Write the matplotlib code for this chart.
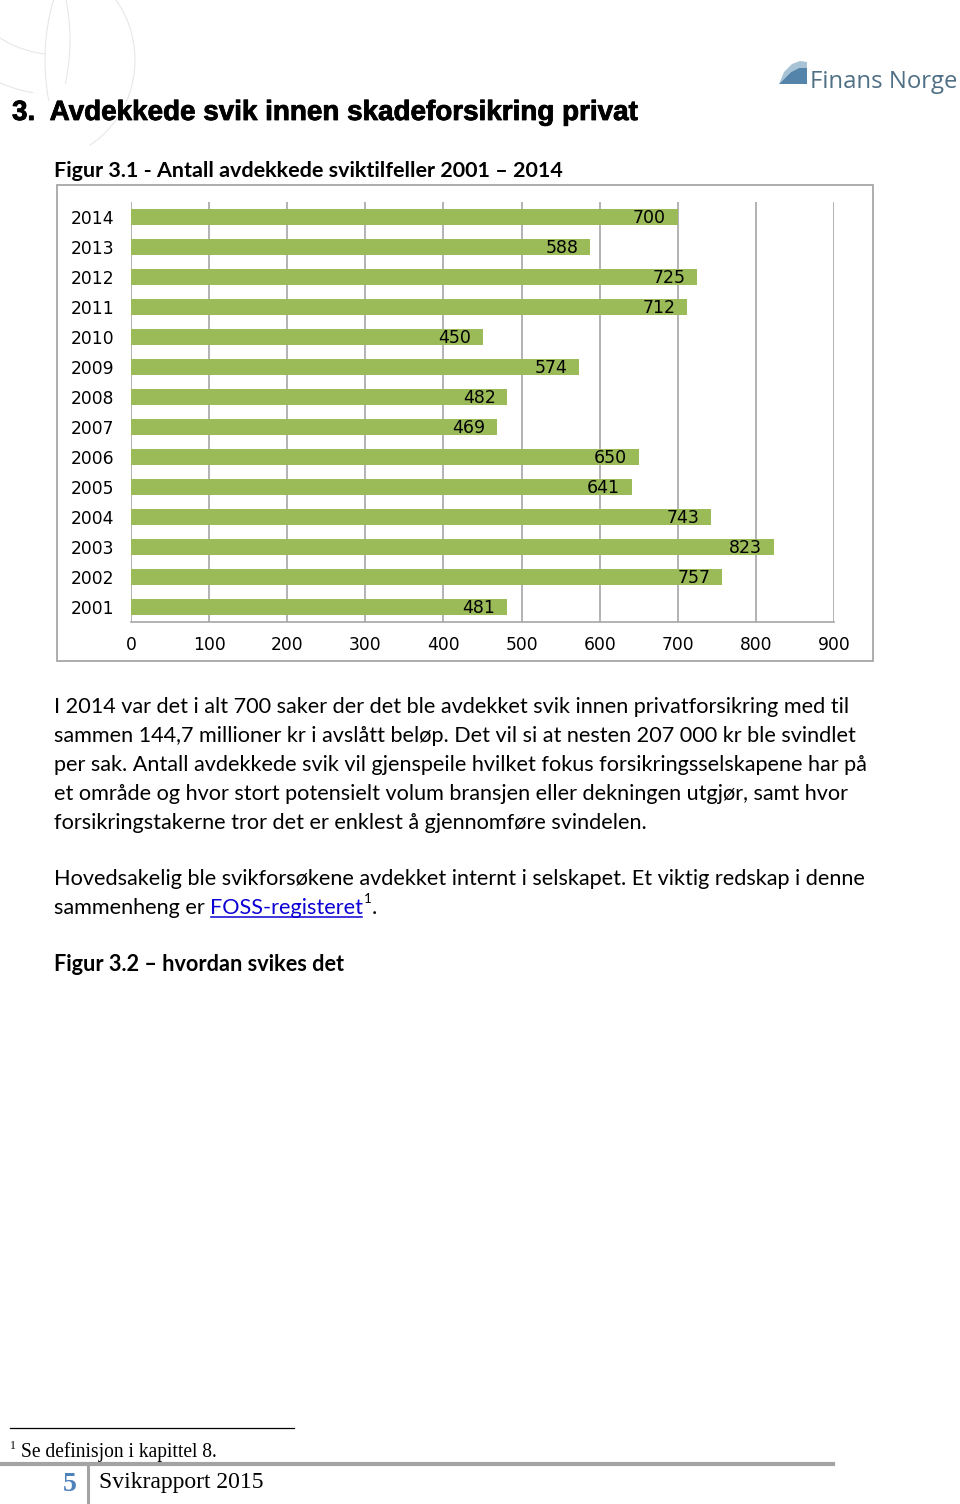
import matplotlib
matplotlib.use('Agg')
import matplotlib.pyplot as plt
import matplotlib.patheffects as pe
from matplotlib.patches import Rectangle, Arc, Polygon

# data
years = ['2001', '2002', '2003', '2004', '2005', '2006', '2007',
         '2008', '2009', '2010', '2011', '2012', '2013', '2014']
counts = [481, 757, 823, 743, 641, 650, 469, 482, 574, 450, 712, 725, 588, 700]
x_ticks = [0, 100, 200, 300, 400, 500, 600, 700, 800, 900]

heading = '3.  Avdekkede svik innen skadeforsikring privat'
fig1_title = 'Figur 3.1 - Antall avdekkede sviktilfeller 2001 \u2013 2014'
fig2_title = 'Figur 3.2 \u2013 hvordan svikes det'
para1 = ['I 2014 var det i alt 700 saker der det ble avdekket svik innen privatforsikring med til',
         'sammen 144,7 millioner kr i avsl\u00e5tt bel\u00f8p. Det vil si at nesten 207 000 kr ble svindlet',
         'per sak. Antall avdekkede svik vil gjenspeile hvilket fokus forsikringsselskapene har p\u00e5',
         'et omr\u00e5de og hvor stort potensielt volum bransjen eller dekningen utgj\u00f8r, samt hvor',
         'forsikringstakerne tror det er enklest \u00e5 gjennomf\u00f8re svindelen.']
para2 = 'Hovedsakelig ble svikfors\u00f8kene avdekket internt i selskapet. Et viktig redskap i denne'
para2_start = 'sammenheng er '
link_text = 'FOSS-registeret'
footnote = 'Se definisjon i kapittel 8.'
footer = 'Svikrapport 2015'

W, H = 960, 1504
BAR = '#9bbb59'
GRID = '#a6a6a6'

fig = plt.figure(figsize=(W / 100, H / 100), dpi=100)
page = fig.add_axes([0, 0, 1, 1])
page.set_xlim(0, W)
page.set_ylim(H, 0)
page.axis('off')
renderer = fig.canvas.get_renderer()


def put(x, y, s, width=None, **kw):
    # place text at a pixel baseline, optionally scale it to a pixel width
    t = page.text(x, y, s, va='baseline', ha='left', **kw)
    if width:
        w = t.get_window_extent(renderer).width
        t.set_fontsize(t.get_fontsize() * width / w)
    return t


def width_of(t):
    return t.get_window_extent(renderer).width


# faint globe lines in the top left corner
for cx, cy, w, h, a1, a2 in [(40, 60, 190, 200, -80, 60), (120, 60, 150, 260, 150, 230),
                             (-10, 40, 160, 260, -40, 30), (60, -30, 200, 170, 100, 170),
                             (60, 20, 220, 150, 110, 160)]:
    page.add_patch(Arc((cx, cy), w, h, theta1=a1, theta2=a2, color='#e4e4e4', lw=0.7))

# logo
page.add_patch(Polygon([(779, 84), (784, 72), (792, 64), (800, 61), (807, 62),
                        (807, 68), (799, 68), (791, 72), (785, 78)], closed=True,
                       fc='#a9c3d6', ec='none'))
page.add_patch(Polygon([(785, 78), (791, 72), (799, 68), (807, 68), (807, 84),
                        (779, 84)], closed=True, fc='#5584aa', ec='none'))
put(810, 88, 'Finans Norge', width=147, family='Open Sans', color='#4f6f85', fontsize=18)

h = put(12, 120, heading, width=625, family='Liberation Sans', weight='bold', fontsize=20)
h.set_path_effects([pe.withStroke(linewidth=0.6, foreground='black')])
put(54, 177, fig1_title, width=509, family='Lato', weight='bold', fontsize=15)

# chart frame and bar chart
page.add_patch(Rectangle((57, 185), 816, 476, fill=False, ec='#a0a0a0', lw=1.2))

ax = fig.add_axes([131 / W, (H - 622) / H, 703 / W, 420 / H])
ypos = list(range(len(years)))
ax.barh(ypos, counts, height=0.53, color=BAR, zorder=2)
ax.set_xlim(0, 900)
ax.set_ylim(-0.5, 13.5)
ax.set_xticks(x_ticks)
ax.set_yticks(ypos)
ax.set_yticklabels(years)
ax.grid(axis='x', color=GRID, lw=1.2)
ax.set_axisbelow(True)
for s in ['top', 'right', 'left']:
    ax.spines[s].set_visible(False)
ax.spines['bottom'].set_color(GRID)
ax.spines['bottom'].set_linewidth(1.2)
ax.tick_params(axis='y', length=0, pad=12, labelsize=12.3)
ax.tick_params(axis='x', length=0, pad=10, labelsize=12.3)
for i, v in zip(ypos, counts):
    ax.annotate(str(v), (v, i), xytext=(-8.5, -0.5), textcoords='offset points',
                ha='right', va='center', fontsize=12.5, color='black')

# body text
body = dict(family='Lato', color='black')
t0 = put(54, 713, para1[0], width=797, fontsize=16, **body)
fs = t0.get_fontsize()
for k, line in enumerate(para1[1:], start=1):
    put(54, 713 + 29 * k, line, fontsize=fs, **body)
put(54, 885, para2, fontsize=fs, **body)
a = put(54, 914, para2_start, fontsize=fs, **body)
x_link = 54 + width_of(a)
b = put(x_link, 914, link_text, fontsize=fs, family='Lato', color='#0b00d4')
x_end = x_link + width_of(b)
page.plot([x_link + 1, x_end - 1], [917, 917], color='#0b00d4', lw=1.1)
c = put(x_end + 1, 903, '1', fontsize=fs * 0.62, **body)
put(x_end + 1 + width_of(c), 914, '.', fontsize=fs, **body)

put(54, 971, fig2_title, width=290, family='Lato', weight='bold', fontsize=15)

# footnote and footer
page.plot([10, 294], [1428, 1428], color='black', lw=0.9)
put(10, 1449, '1', family='Liberation Serif', fontsize=8.5)
put(21, 1457, footnote, width=195, family='Liberation Serif', fontsize=13)
page.plot([0, 833], [1464, 1464], color='#a3a3a3', lw=3)
page.plot([88, 88], [1466, 1504], color='#a3a3a3', lw=2.2)
put(63, 1491, '5', width=14, family='Liberation Serif', weight='bold',
    color='#4f81bd', fontsize=18)
put(99, 1488, footer, width=165, family='Liberation Serif', fontsize=16)

fig.savefig('out.png', dpi=100)
